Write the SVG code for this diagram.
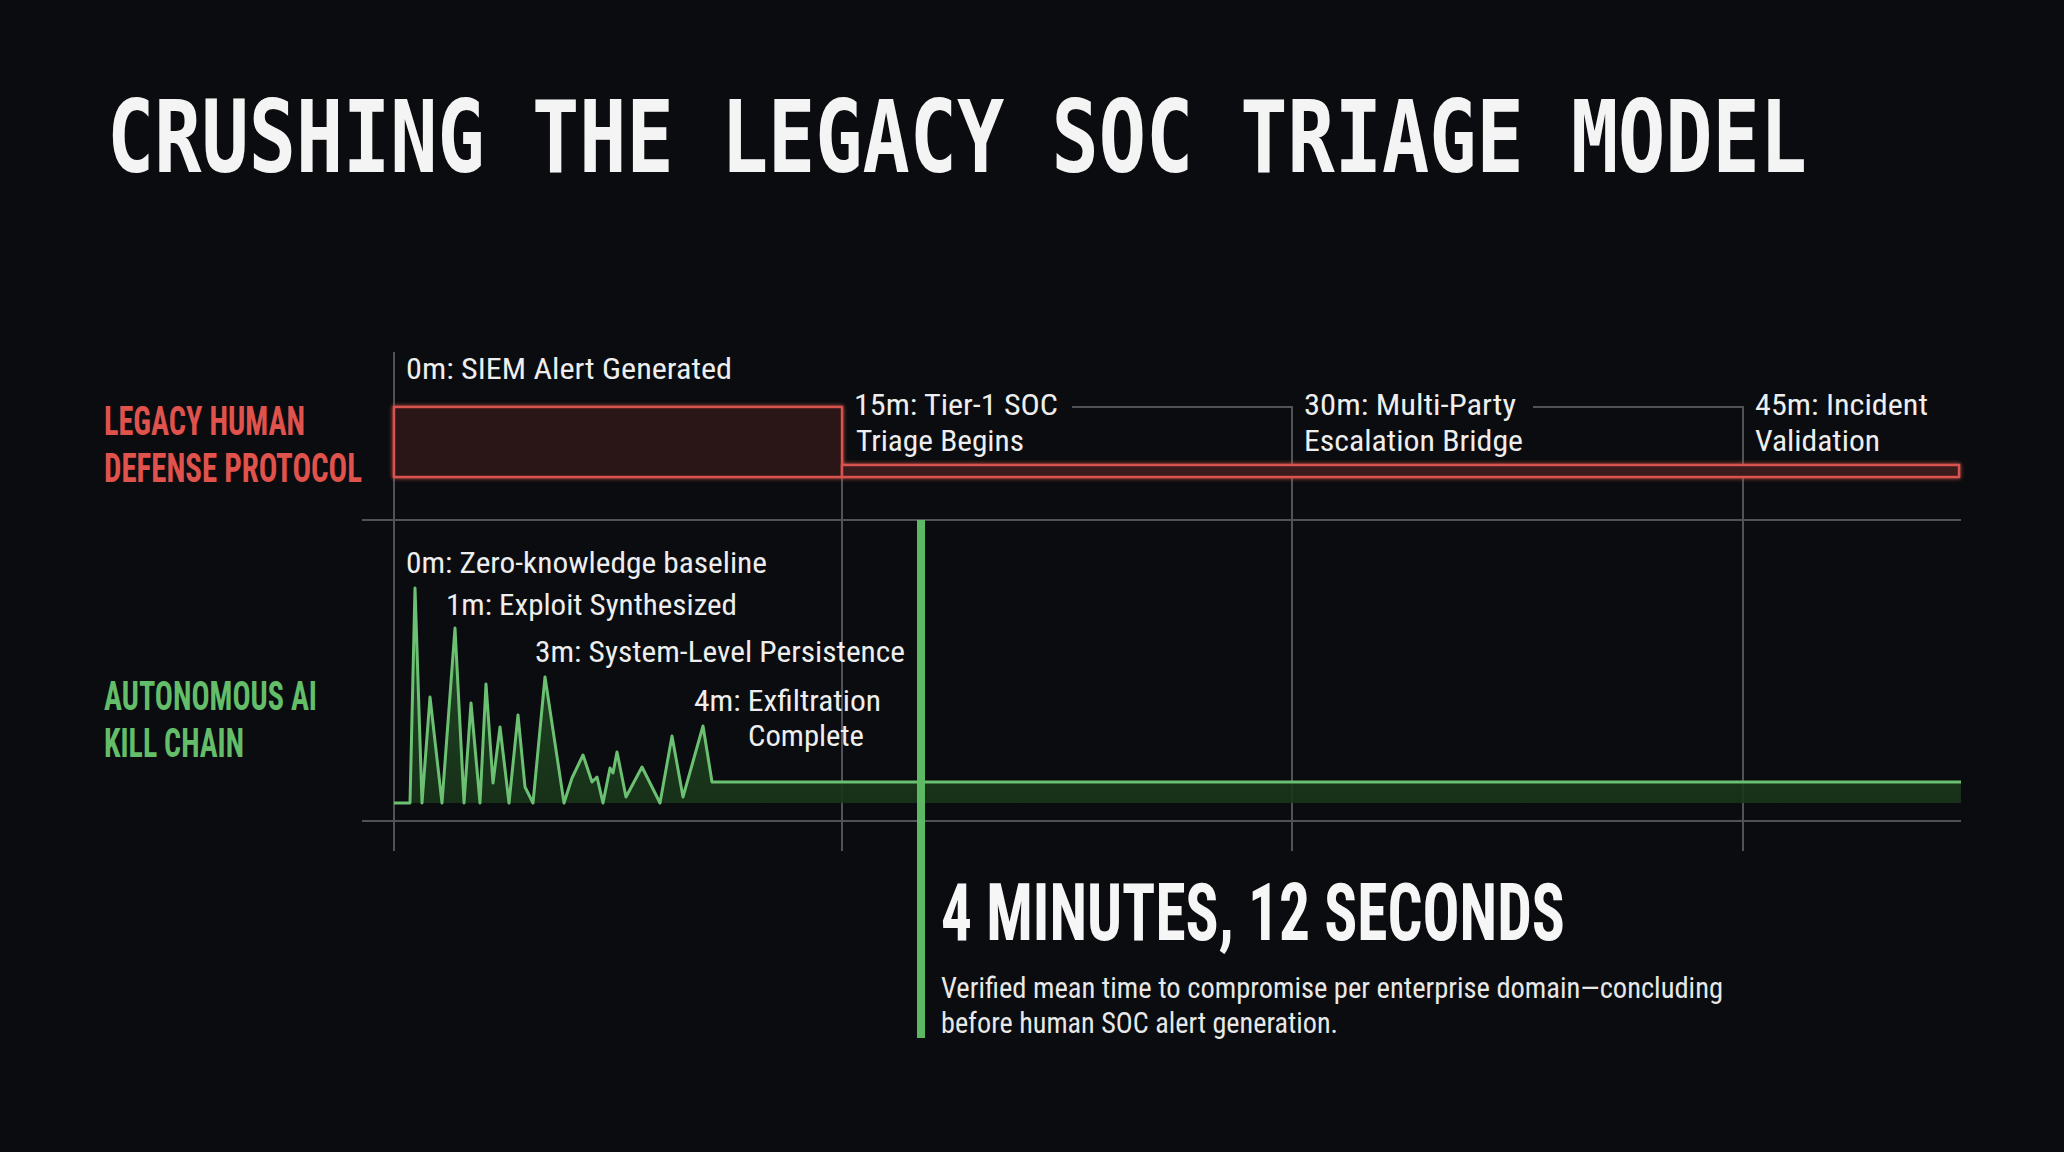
<svg xmlns="http://www.w3.org/2000/svg" width="2064" height="1152" viewBox="0 0 2064 1152">
<defs>
<style>
.title{font-family:"DejaVu Sans Mono","Liberation Mono",monospace;font-weight:bold;font-size:78px;fill:#f4f4f4}
.row{font-family:"Liberation Sans Narrow","Roboto Condensed","Liberation Sans",sans-serif;font-weight:bold;font-size:40px}
.red{fill:#e0534d}
.grn{fill:#63bd69}
.lbl{font-family:"Liberation Sans Narrow","Roboto Condensed","Liberation Sans",sans-serif;font-size:29px;fill:#eeeeee}
.big{font-family:"Liberation Sans Narrow","Roboto Condensed","Liberation Sans",sans-serif;font-weight:bold;font-size:80px;fill:#f6f6f6}
.sub{font-family:"Liberation Sans Narrow","Roboto Condensed","Liberation Sans",sans-serif;font-size:29px;fill:#e8e8e8}
.grid{stroke:#4f5358;stroke-width:2;fill:none}
</style>
<linearGradient id="gfill" x1="0" y1="0" x2="0" y2="1">
<stop offset="0" stop-color="#24502a" stop-opacity="0.9"/>
<stop offset="1" stop-color="#183519" stop-opacity="0.9"/>
</linearGradient>
<filter id="glow" x="-5%" y="-50%" width="110%" height="200%">
<feGaussianBlur stdDeviation="2" result="b"/>
<feMerge><feMergeNode in="b"/><feMergeNode in="SourceGraphic"/></feMerge>
</filter>
</defs>
<rect width="2064" height="1152" fill="#0a0c0f"/>

<g id="title">
<text class="title" transform="translate(107,172) scale(1,1.28)" x="0" y="0" textLength="1700" lengthAdjust="spacingAndGlyphs">CRUSHING THE LEGACY SOC TRIAGE MODEL</text>
</g>

<g id="grid">
<line class="grid" x1="362" y1="520" x2="1961" y2="520"/>
<line class="grid" x1="362" y1="821" x2="1961" y2="821"/>
<line class="grid" x1="394" y1="352" x2="394" y2="851"/>
<line class="grid" x1="842" y1="407" x2="842" y2="851"/>
<polyline class="grid" points="1072,407 1292,407 1292,851" stroke-width="1.5"/>
<polyline class="grid" points="1533,407 1743,407 1743,851" stroke-width="1.5"/>
</g>

<g id="row-legacy">
<text class="row red" x="104" y="435" textLength="201" lengthAdjust="spacingAndGlyphs">LEGACY HUMAN</text>
<text class="row red" x="104" y="482" textLength="258" lengthAdjust="spacingAndGlyphs">DEFENSE PROTOCOL</text>
</g>

<g id="row-ai">
<text class="row grn" x="104" y="710" textLength="213" lengthAdjust="spacingAndGlyphs">AUTONOMOUS AI</text>
<text class="row grn" x="104" y="757" textLength="140" lengthAdjust="spacingAndGlyphs">KILL CHAIN</text>
</g>

<g id="legacy-bars" filter="url(#glow)">
<rect x="394" y="407" width="448" height="70" fill="#2c1416" stroke="#d9534f" stroke-width="2.5"/>
<rect x="842" y="465" width="1117" height="12" fill="#3b1a1c" stroke="#d9534f" stroke-width="2.5"/>
</g>

<g id="legacy-labels">
<text class="lbl" x="406" y="379" textLength="326" lengthAdjust="spacingAndGlyphs">0m: SIEM Alert Generated</text>
<text class="lbl" x="854" y="415" textLength="204" lengthAdjust="spacingAndGlyphs">15m: Tier-1 SOC</text>
<text class="lbl" x="856" y="451" textLength="168" lengthAdjust="spacingAndGlyphs">Triage Begins</text>
<text class="lbl" x="1304" y="415" textLength="212" lengthAdjust="spacingAndGlyphs">30m: Multi-Party</text>
<text class="lbl" x="1304" y="451" textLength="219" lengthAdjust="spacingAndGlyphs">Escalation Bridge</text>
<text class="lbl" x="1755" y="415" textLength="173" lengthAdjust="spacingAndGlyphs">45m: Incident</text>
<text class="lbl" x="1755" y="451" textLength="125" lengthAdjust="spacingAndGlyphs">Validation</text>
</g>

<g id="ai-wave">
<path d="M394,803 L410,803 L415,588 L422,803 L430,697 L442,803 L455,628 L464,803 L471,703 L480,803 L486,684 L493,783 L500,727 L509,803 L518,715 L525,787 L533,803 L545,677 L564,803 L572,778 L583,755 L592,782 L597,777 L603,803 L610,768 L613,773 L617,752 L626,797 L642,767 L660,803 L672,736 L683,797 L703,726 L712,782 L1961,782 L1961,803 Z" fill="url(#gfill)" stroke="none"/>
<polyline points="394,803 410,803 415,588 422,803 430,697 442,803 455,628 464,803 471,703 480,803 486,684 493,783 500,727 509,803 518,715 525,787 533,803 545,677 564,803 572,778 583,755 592,782 597,777 603,803 610,768 613,773 617,752 626,797 642,767 660,803 672,736 683,797 703,726 712,782 1961,782" fill="none" stroke="#6cc072" stroke-width="3" stroke-linejoin="round"/>
</g>

<g id="ai-labels">
<text class="lbl" x="406" y="573" textLength="361" lengthAdjust="spacingAndGlyphs">0m: Zero-knowledge baseline</text>
<text class="lbl" x="446" y="615" textLength="291" lengthAdjust="spacingAndGlyphs">1m: Exploit Synthesized</text>
<text class="lbl" x="535" y="662" textLength="370" lengthAdjust="spacingAndGlyphs">3m: System-Level Persistence</text>
<text class="lbl" x="694" y="711" textLength="187" lengthAdjust="spacingAndGlyphs">4m: Exfiltration</text>
<text class="lbl" x="748" y="746" textLength="116" lengthAdjust="spacingAndGlyphs">Complete</text>
</g>

<g id="marker-line">
<rect x="917" y="520" width="8" height="518" fill="#5cb862"/>
</g>

<g id="stat">
<text class="big" x="941" y="940" textLength="624" lengthAdjust="spacingAndGlyphs">4 MINUTES, 12 SECONDS</text>
<text class="sub" x="941" y="998" textLength="782" lengthAdjust="spacingAndGlyphs">Verified mean time to compromise per enterprise domain—concluding</text>
<text class="sub" x="941" y="1033" textLength="397" lengthAdjust="spacingAndGlyphs">before human SOC alert generation.</text>
</g>
</svg>
